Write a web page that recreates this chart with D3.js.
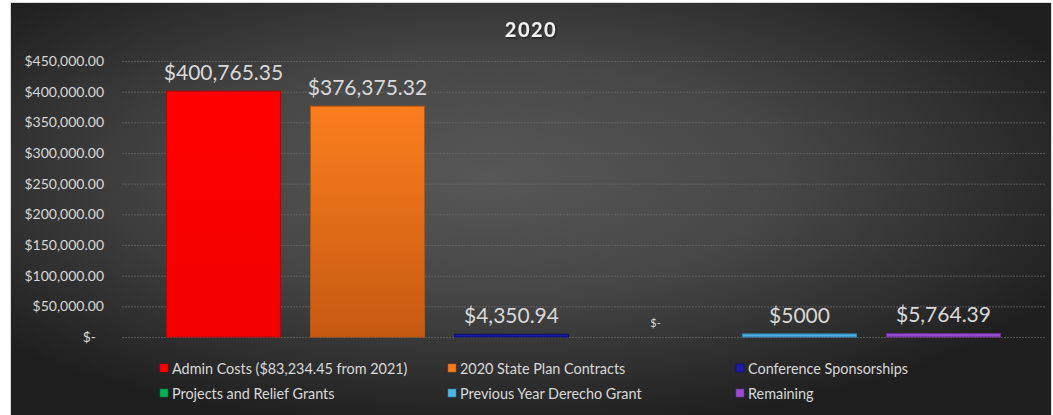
<!DOCTYPE html>
<html>
<head>
<meta charset="utf-8">
<script src="https://cdn.jsdelivr.net/npm/d3@7"></script>
<style>
  body { margin: 0; background: #fff; }
  svg { display: block; font-family: Lato, "Noto Sans", sans-serif; }
</style>
</head>
<body>
<div id="chart"></div>
<script>
const title = '2020';
const series = [
  'Admin Costs ($83,234.45 from 2021)',
  '2020 State Plan Contracts',
  'Conference Sponsorships',
  'Projects and Relief Grants',
  'Previous Year Derecho Grant',
  'Remaining'
];
const amounts = [400765.35, 376375.32, 4350.94, 0, 5000, 5764.39];
const valueLabels = ['$400,765.35', '$376,375.32', '$4,350.94', '$-', '$5000', '$5,764.39'];
const yTickValues = [0, 50000, 100000, 150000, 200000, 250000, 300000, 350000, 400000, 450000];

const palette = ['#ff0000', '#f47a1c', '#1c1ca8', '#00b050', '#4fb3e6', '#9a4cd0'];
const edges = ['#c00000', '#b85510', '#0a0a70', '#007a38', '#2e86b8', '#6a2c9a'];

class BudgetChart {

  constructor({ id, width, height }) {
    this.domId = id;
    this.width = width || 1053;
    this.height = height || 415;
    this._init();
  }

  _init() {
    this.svg = d3.select(`#${this.domId}`)
        .append('svg')
        .attr('width', this.width)
        .attr('height', this.height);

    const defs = this.svg.append('defs');

    const bg = defs.append('radialGradient')
        .attr('id', 'bg')
        .attr('cx', '46%').attr('cy', '42%').attr('r', '62%');
    bg.append('stop').attr('offset', '0%').attr('stop-color', '#575757');
    bg.append('stop').attr('offset', '45%').attr('stop-color', '#474747');
    bg.append('stop').attr('offset', '100%').attr('stop-color', '#1f1f1f');

    // vertical shading so each bar looks a bit bevelled
    palette.forEach((c, i) => {
      const g = defs.append('linearGradient')
          .attr('id', `bar${i}`)
          .attr('x1', 0).attr('y1', 0).attr('x2', 0).attr('y2', 1);
      const top = i === 1 ? '#fb7e1e' : c;
      const bottom = i === 1 ? '#c65a12' : d3.color(c).darker(0.15);
      g.append('stop').attr('offset', '0%').attr('stop-color', top);
      g.append('stop').attr('offset', '100%').attr('stop-color', bottom);
    });

    const shadow = defs.append('filter').attr('id', 'shadow');
    shadow.append('feDropShadow')
        .attr('dx', 1).attr('dy', 1).attr('stdDeviation', 1)
        .attr('flood-color', '#000').attr('flood-opacity', 0.6);

    // chart frame
    this.svg.append('rect')
        .attr('x', 10.5).attr('y', 2.5)
        .attr('width', 1041).attr('height', 413)
        .attr('fill', 'url(#bg)')
        .attr('stroke', '#d9d9d9')
        .attr('stroke-width', 1);

    this.x = d3.scaleBand()
        .domain(series)
        .range([122, 1045])
        .paddingInner(0.208)
        .paddingOuter(0.309);

    this.y = d3.scaleLinear()
        .domain([0, 450000])
        .range([337, 61]);
  }

  render() {
    this._axis();
    this._bars();
    this._legend();

    this.svg.append('text')
        .attr('x', 531)
        .attr('y', 37)
        .attr('text-anchor', 'middle')
        .attr('font-size', 20)
        .attr('font-weight', 'bold')
        .attr('letter-spacing', 1.5)
        .attr('fill', '#f2f2f2')
        .attr('filter', 'url(#shadow)')
        .text(title);
  }

  _axis() {
    const fmt = d3.format('$,.2f');
    const axis = d3.axisLeft(this.y)
        .tickValues(yTickValues)
        .tickSize(-(1045 - 122))
        .tickPadding(18)
        .tickFormat(d => d === 0 ? '$-' : fmt(d));

    const g = this.svg.append('g')
        .attr('transform', 'translate(122,0)')
        .call(axis);

    g.select('.domain').remove();
    g.selectAll('.tick line')
        .attr('stroke', '#6a6a6a')
        .attr('stroke-width', 1)
        .attr('stroke-dasharray', '2,1')
        .attr('opacity', 0.75);
    g.selectAll('.tick text')
        .attr('fill', '#d9d9d9')
        .attr('font-size', 14)
        .attr('font-family', 'Lato, sans-serif')
        .attr('dx', d => d === 0 ? -8 : 0);
  }

  _bars() {
    const rows = series.map((s, i) => ({ s, i, v: amounts[i], label: valueLabels[i] }));

    this.svg.append('g')
        .selectAll('rect')
        .data(rows.filter(d => d.v > 0))
        .join('rect')
        .attr('x', d => this.x(d.s))
        .attr('y', d => this.y(d.v))
        .attr('width', this.x.bandwidth())
        .attr('height', d => this.y(0) - this.y(d.v))
        .attr('fill', d => `url(#bar${d.i})`)
        .attr('stroke', d => edges[d.i])
        .attr('stroke-width', 1);

    this.svg.append('g')
        .selectAll('text')
        .data(rows)
        .join('text')
        .attr('x', d => this.x(d.s) + this.x.bandwidth() / 2)
        .attr('y', d => d.v > 0 ? this.y(d.v) - 11 : this.y(0) - 10)
        .attr('text-anchor', 'middle')
        .attr('fill', '#d9d9d9')
        .attr('font-size', d => d.v > 0 ? 21 : 11)
        .text(d => d.label);
  }

  _legend() {
    const colX = [160, 448, 736];
    const rowY = [374, 399];

    const items = this.svg.append('g')
        .selectAll('g')
        .data(series)
        .join('g')
        .attr('transform', (d, i) => `translate(${colX[i % 3]},${rowY[Math.floor(i / 3)]})`);

    items.append('rect')
        .attr('x', 0).attr('y', -10)
        .attr('width', 8).attr('height', 8)
        .attr('fill', (d, i) => palette[i])
        .attr('stroke', (d, i) => edges[i])
        .attr('stroke-width', 0.5);

    items.append('text')
        .attr('x', 12)
        .attr('fill', '#d9d9d9')
        .attr('font-size', 14.4)
        .text(d => d);
  }

}

new BudgetChart({ id: 'chart', width: 1053, height: 415 }).render();
</script>
</body>
</html>
